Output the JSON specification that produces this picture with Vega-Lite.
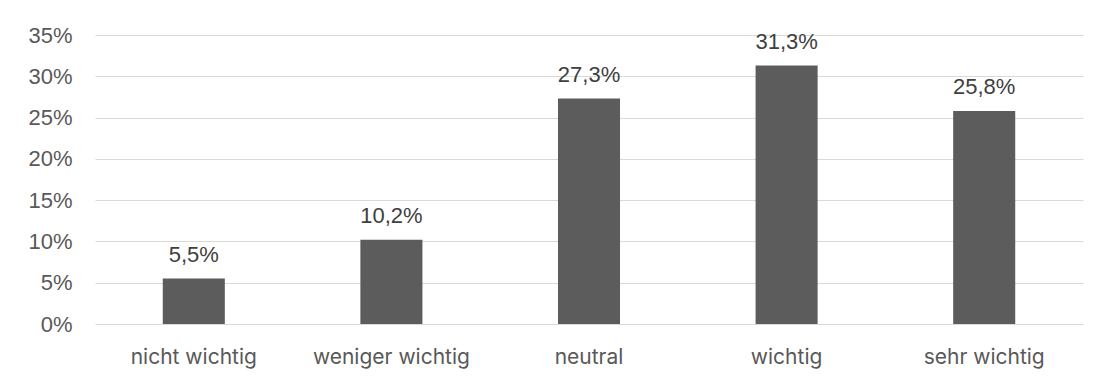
{
  "$schema": "https://vega.github.io/schema/vega-lite/v6.json",
  "width": 988,
  "height": 289,
  "autosize": {"type": "none"},
  "padding": {"left": 95, "top": 35, "right": 16, "bottom": 57},
  "background": "white",
  "config": {
    "locale": {"number": {"decimal": ",", "thousands": ".", "grouping": [3], "currency": ["", " €"]}},
    "view": {"stroke": null}
  },
  "data": {"values": [
    {"kategorie": "nicht wichtig", "anteil": 0.055},
    {"kategorie": "weniger wichtig", "anteil": 0.102},
    {"kategorie": "neutral", "anteil": 0.273},
    {"kategorie": "wichtig", "anteil": 0.313},
    {"kategorie": "sehr wichtig", "anteil": 0.258}
  ]},
  "encoding": {
    "x": {
      "field": "kategorie", "type": "nominal", "sort": null,
      "scale": {"paddingInner": 0.686, "paddingOuter": 0.343},
      "axis": {"title": null, "labelAngle": 0, "ticks": false, "domain": false,
               "labelFont": "Inter", "labelFontSize": 21, "labelColor": "#595959",
               "labelBaseline": "alphabetic", "labelPadding": 39}
    },
    "y": {
      "field": "anteil", "type": "quantitative",
      "scale": {"domain": [0, 0.35], "nice": false},
      "axis": {"title": null, "format": ".0%", "values": [0, 0.05, 0.1, 0.15, 0.2, 0.25, 0.3, 0.35],
               "ticks": false, "domain": false, "gridColor": "#d9d9d9", "gridWidth": 1,
               "labelFont": "Liberation Sans", "labelFontSize": 22, "labelColor": "#595959",
               "labelPadding": 23}
    }
  },
  "layer": [
    {"mark": {"type": "bar", "color": "#5c5c5c"}},
    {"mark": {"type": "text", "baseline": "alphabetic", "dy": -17, "font": "Liberation Sans", "fontSize": 22, "color": "#404040"},
     "encoding": {"text": {"field": "anteil", "type": "quantitative", "format": ".1%"}}}
  ]
}
